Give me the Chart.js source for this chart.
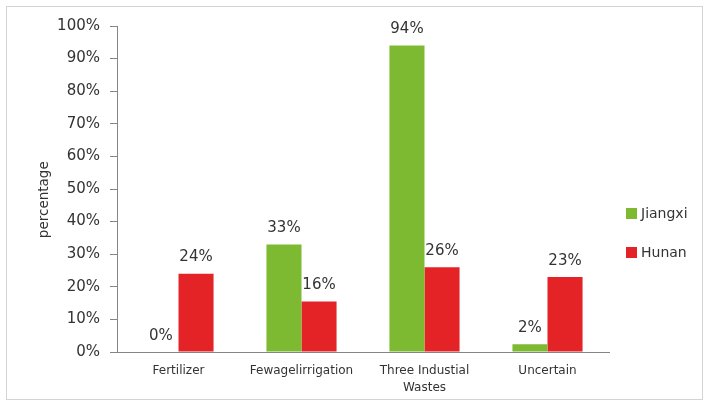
<!DOCTYPE html>
<html>
<head>
<meta charset="utf-8">
<script src="https://cdn.jsdelivr.net/npm/chart.js@4.4.0/dist/chart.umd.min.js"></script>
<style>
    body { margin: 0; background: #fff; }
    #box { position: absolute; left: 6px; top: 6px; width: 697px; height: 394px; border: 1px solid #d4d4d4; box-sizing: border-box; }
    canvas { display: block; }
</style>
</head>
<body>
<div id="box"><canvas id="sourcesChart" width="695" height="392"></canvas></div>
<script>
const categories = ['Fertilizer', 'Fewagelirrigation', ['Three Industial', 'Wastes'], 'Uncertain'];
const jiangxi = [0, 33, 94, 2.4];
const hunan = [24, 15.5, 26, 23];
const yMax = 100;
const yStep = 10;

const textColor = '#333333';
const axisColor = '#868686';
const font = 'DejaVu Sans';

// values over the bars + the legend on the right
const extras = {
    id: 'extras',
    afterDatasetsDraw(chart) {
        const ctx = chart.ctx;
        ctx.save();
        ctx.fillStyle = textColor;
        ctx.font = '15px "' + font + '"';
        ctx.textAlign = 'center';
        ctx.textBaseline = 'alphabetic';
        chart.data.datasets.forEach((ds, i) => {
            chart.getDatasetMeta(i).data.forEach((bar, j) => {
                ctx.fillText(Math.round(ds.data[j]) + '%', bar.x, bar.y - 12.5);
            });
        });

        const x = chart.chartArea.right + 17;
        ctx.font = '14px "' + font + '"';
        ctx.textAlign = 'left';
        ctx.textBaseline = 'middle';
        chart.data.datasets.forEach((ds, i) => {
            const y = 201 + i * 39;
            ctx.fillStyle = ds.backgroundColor;
            ctx.fillRect(x, y, 11, 11);
            ctx.fillStyle = textColor;
            ctx.fillText(ds.label, x + 15, y + 6);
        });
        ctx.restore();
    }
};

const ctx = document.getElementById('sourcesChart').getContext('2d');
const sourcesChart = new Chart(ctx, {
    type: 'bar',
    data: {
        labels: categories,
        datasets: [{
            label: 'Jiangxi',
            data: jiangxi,
            backgroundColor: '#7dba31'
        }, {
            label: 'Hunan',
            data: hunan,
            backgroundColor: '#e42326'
        }]
    },
    options: {
        responsive: false,
        animation: false,
        layout: {
            padding: { top: 19, right: 93, bottom: 0, left: 0 }
        },
        datasets: {
            bar: {
                categoryPercentage: 0.57,
                barPercentage: 1.0
            }
        },
        scales: {
            x: {
                grid: { display: false, drawTicks: false },
                border: { display: true, color: axisColor, width: 1 },
                ticks: {
                    color: textColor,
                    padding: 10,
                    maxRotation: 0,
                    autoSkip: false,
                    font: { size: 12, family: font, lineHeight: 1.45 }
                },
                afterFit: (scale) => { scale.height = 47; }
            },
            y: {
                min: 0,
                max: yMax,
                grid: {
                    drawOnChartArea: false,
                    drawTicks: true,
                    tickLength: 7,
                    color: axisColor
                },
                border: { display: true, color: axisColor, width: 1 },
                ticks: {
                    stepSize: yStep,
                    padding: 10,
                    color: textColor,
                    font: { size: 15, family: font },
                    callback: (v) => v + '%'
                },
                title: {
                    display: true,
                    text: 'percentage     ',
                    color: textColor,
                    padding: { top: 29, bottom: 0 },
                    font: { size: 13.5, family: font, lineHeight: 1.2 }
                },
                afterFit: (scale) => { scale.width = 110; }
            }
        },
        plugins: {
            legend: { display: false },
            tooltip: { enabled: false }
        }
    },
    plugins: [extras]
});
</script>
</body>
</html>
